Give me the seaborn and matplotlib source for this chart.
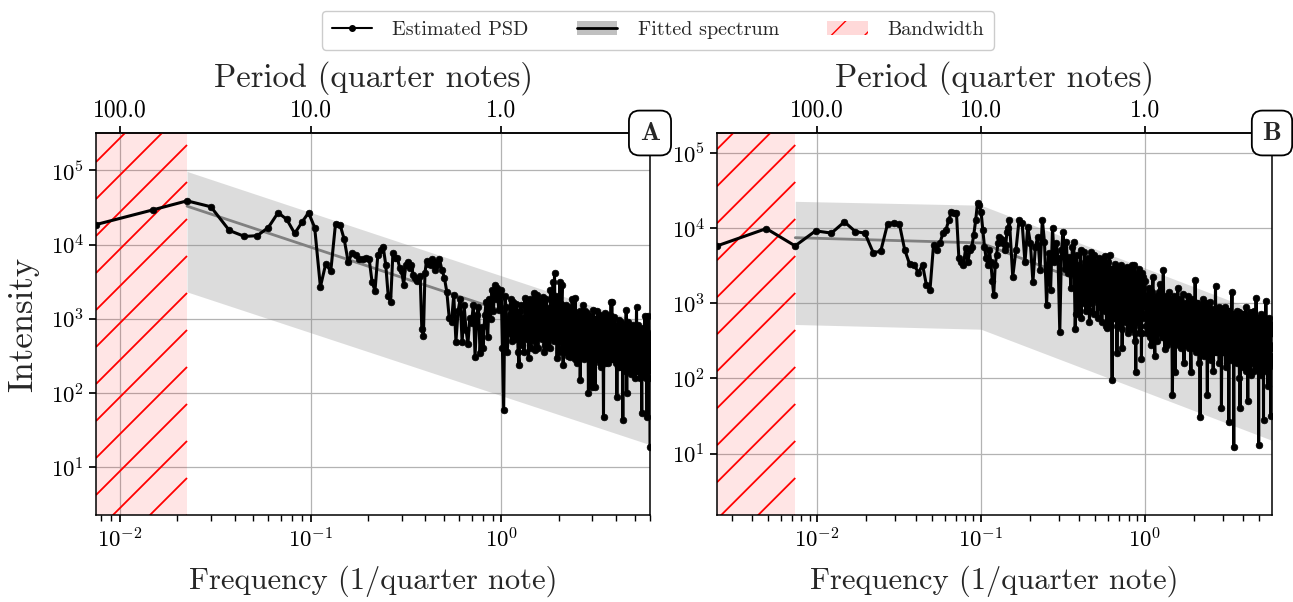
import numpy as np
import matplotlib
matplotlib.use("Agg")
import matplotlib.pyplot as plt
import seaborn as sns
from matplotlib.lines import Line2D
from matplotlib.patches import Patch
from matplotlib.ticker import FixedLocator, FormatStrFormatter, NullLocator

# ---------------- data (PSD given as log10 intensity) ----------------
# panel A: frequency grid k / T_A, blocks with different index start/step
T_A = 133.3
log_psd_a_1 = [  # k = 1..60
    4.27, 4.47, 4.59, 4.51, 4.19, 4.11, 4.12, 4.23, 4.43, 4.34,
    4.15, 4.30, 4.43, 4.23, 3.43, 3.74, 3.64, 4.28, 4.27, 4.07,
    3.76, 3.89, 3.86, 3.81, 3.80, 3.82, 3.81, 3.49, 3.38, 3.86,
    3.93, 3.97, 3.73, 3.31, 3.22, 3.89, 3.82, 3.82, 3.69, 3.64,
    3.46, 3.72, 3.77, 3.69, 3.72, 3.59, 3.55, 3.51, 3.53, 3.58,
    2.86, 2.77, 3.62, 3.78, 3.74, 3.77, 3.73, 3.81, 3.76, 3.66]
log_psd_a_2 = [  # k = 61, 63, ...
    3.73, 3.81, 3.66, 3.55, 3.36, 3.01, 2.96, 3.32, 2.69, 3.10,
    3.26, 2.68, 3.18, 2.85, 2.66, 3.01, 2.94, 3.19, 2.49, 3.05,
    3.16, 2.54, 2.89, 2.61, 3.05, 3.22, 2.76, 3.26, 2.99, 3.39,
    3.10, 3.46, 3.26, 3.41, 3.12, 3.36]
log_psd_a_4 = [  # k = 133, 137, ...
    3.39, 1.77, 3.16, 2.81, 3.26, 3.22, 2.72, 3.08, 2.38, 3.19,
    3.01, 3.28, 2.72, 2.47, 3.26, 2.86, 3.35, 2.58, 3.32, 2.95,
    3.24, 2.72, 3.29, 2.65, 3.26, 2.62, 3.12, 3.39, 2.86, 3.50,
    3.62, 2.86, 2.47, 3.26, 3.49, 2.98, 3.46, 2.38, 2.86, 3.19,
    2.72, 3.16, 2.80, 2.49, 3.00, 3.26, 2.65, 3.08, 3.28, 2.86,
    2.40, 3.04, 2.72, 2.18, 3.08, 2.86, 3.19, 2.58, 3.10, 2.80,
    3.08, 2.65, 2.00, 3.01, 2.72, 3.04, 2.08, 2.95, 3.12, 2.55,
    2.08, 3.00, 2.62, 3.10, 2.45, 2.92, 3.05, 2.35, 2.98, 2.70,
    3.02, 1.68, 2.90, 3.08, 2.50, 2.95, 2.62, 3.00, 2.40, 2.88,
    3.05, 2.55, 3.22, 3.22, 2.75, 2.92, 2.45, 3.02, 2.60, 2.85,
    2.50, 1.95, 2.90, 2.70, 2.98, 2.35, 2.88, 2.60, 2.95, 2.42,
    2.85, 1.64, 2.70, 2.92, 2.30, 2.80, 2.55, 3.12, 2.00, 2.85,
    2.60, 2.95, 2.40, 2.80, 2.50, 2.90, 2.25, 2.78, 2.60, 2.92,
    2.35, 2.80, 2.55, 2.70, 2.20, 2.88, 2.62, 3.16, 2.40, 2.75,
    2.55, 2.92, 2.30, 2.78, 2.60, 2.85, 2.45, 2.70, 1.73, 2.80,
    2.50, 2.88, 2.35, 2.72, 2.58, 3.03, 2.40, 2.75, 2.20, 2.82,
    1.68, 2.70, 2.50, 3.03, 2.35, 2.78, 2.55, 1.27]
log_psd_a_4b = [  # k = 135, 139, ...
    2.60, 3.30, 2.55, 3.05, 2.70, 2.95, 3.20, 2.55, 3.10, 2.65,
    2.55, 3.00, 3.20, 2.80, 2.60, 3.15, 2.70, 3.28, 2.60, 3.10,
    2.80, 3.18, 2.55, 3.05, 2.70, 3.15, 2.60, 2.75, 3.25, 2.70,
    2.95, 3.30, 3.05, 2.55, 2.70, 3.20, 2.60, 3.05, 3.15, 2.55,
    3.05, 2.50, 3.10, 2.95, 2.55, 2.70, 3.10, 2.45, 2.75, 3.00,
    2.90, 2.55, 3.10, 2.65, 2.50, 3.05, 2.45, 2.95, 2.60, 3.05,
    2.50, 2.90, 2.80, 2.45, 3.00, 2.55, 2.70, 2.40, 2.80, 3.00,
    2.90, 2.45, 2.95, 2.55, 2.90, 2.50, 2.40, 2.95, 2.55, 2.95,
    2.45, 2.90, 2.60, 2.40, 2.95, 2.55, 2.90, 2.45, 2.95, 2.60,
    2.45, 2.95, 2.50, 2.60, 2.95, 2.45, 2.85, 2.55, 2.90, 2.40,
    2.85, 2.60, 2.35, 2.85, 2.50, 2.90, 2.45, 2.80, 2.40, 2.85,
    2.50, 2.85, 2.40, 2.55, 2.85, 2.40, 2.90, 2.45, 2.80, 2.30,
    2.85, 2.40, 2.75, 2.55, 2.85, 2.35, 2.70, 2.50, 2.85, 2.45,
    2.70, 2.40, 2.85, 2.30, 2.75, 2.50, 2.85, 2.45, 2.65, 2.30,
    2.80, 2.45, 2.65, 2.20, 2.80, 2.40, 2.75, 2.30, 2.60, 2.45,
    2.80, 2.30, 2.65, 2.40, 2.80, 2.25, 2.70, 2.45, 2.80, 2.35,
    2.60, 2.30, 2.75, 2.40, 2.65, 2.20, 2.50]

# panel B
T_B = 409.0
log_psd_b_1 = [  # k = 1..60
    3.76, 3.99, 3.76, 3.96, 3.93, 4.08, 3.95, 3.93, 3.67, 3.69,
    4.05, 4.07, 4.05, 3.71, 3.52, 3.51, 3.40, 3.51, 3.24, 3.18,
    3.77, 3.71, 3.80, 3.93, 3.97, 4.10, 4.21, 4.20, 4.20, 3.60,
    3.55, 3.51, 3.73, 3.54, 3.70, 3.75, 3.91, 4.10, 4.33, 4.30,
    4.21, 3.97, 3.75, 3.60, 3.51, 3.71, 3.55, 3.30, 3.11, 3.50,
    3.64, 3.80, 3.88, 3.85, 3.84, 3.80, 3.70, 3.77, 3.95, 4.00]
log_psd_b_3 = [  # k = 61, 64, ...
    4.11, 3.35, 3.71, 4.11, 4.07, 3.54, 4.01, 3.80, 3.28, 3.75,
    3.88, 3.44, 4.11, 3.81, 2.98, 3.67, 3.18, 4.00, 3.54, 3.80,
    3.60, 2.62, 3.70, 3.95, 3.45, 3.81, 3.40, 3.61, 3.20, 3.75,
    3.81, 2.65, 3.64, 3.30, 2.91, 3.70, 3.48, 3.20, 3.68, 3.35,
    3.22, 3.60, 3.48, 2.90, 3.68, 3.40, 3.15, 3.64, 3.30, 3.55,
    3.10, 3.60, 2.95, 3.50, 3.25, 3.58, 3.00, 3.45, 3.62, 3.20,
    2.67, 3.55, 3.30, 3.64, 3.05, 3.45, 1.98, 3.40, 3.10, 3.52,
    2.80, 3.35, 2.34, 3.45, 3.05, 3.40, 2.70, 3.50, 3.15, 2.40,
    3.38, 3.00, 3.45, 2.80, 3.30, 3.10, 3.48, 2.60, 3.35, 2.95,
    3.42, 2.85, 3.25, 3.50, 2.70, 3.30, 3.05, 3.51, 2.50, 3.20,
    2.09, 3.35, 2.90, 3.40, 2.75, 3.20, 3.45, 2.60, 3.30, 3.00,
    2.26, 3.40, 2.80, 3.35]
log_psd_b_3b = [  # k = 152, 155, ...
    3.45, 2.85, 3.50, 3.05, 3.30, 2.80, 3.45, 3.00, 3.55, 2.90,
    3.35, 3.10, 2.75, 3.40, 3.00, 3.50, 2.85, 3.30, 3.05, 3.45,
    2.80, 3.35, 3.00, 3.40, 2.75, 3.25, 3.45, 2.90, 3.30, 2.70,
    3.40, 3.05, 3.30, 2.75, 3.45, 2.95, 3.20, 3.40, 2.80, 3.25,
    3.00, 3.40, 2.70, 3.30, 3.10, 2.85, 3.40, 2.95, 3.25, 2.65,
    3.35, 3.05, 3.20, 2.75, 3.40, 2.90, 3.15, 3.35, 2.70, 3.20,
    3.00, 3.30, 2.65, 3.25, 2.95, 3.35, 2.80, 3.15, 2.60, 3.30,
    2.90, 3.20, 3.35, 2.75, 3.10, 2.85, 3.30, 2.70, 3.25, 2.95,
    2.60, 3.30, 2.85]
log_psd_b_12 = [  # k = 412, 424, ...
    3.30, 2.60, 3.20, 2.45, 3.35, 2.30, 3.10, 2.70, 3.25, 2.55,
    3.44, 2.39, 3.05, 2.75, 3.15, 2.50, 1.78, 3.10, 2.09, 2.95,
    3.20, 2.45, 3.05, 2.60, 3.12, 2.20, 2.95, 2.55, 3.10, 2.40,
    2.90, 2.09, 3.05, 2.50, 2.85, 3.31, 2.35, 3.00, 2.60, 2.20,
    1.49, 2.95, 2.45, 3.05, 2.30, 2.90, 2.60, 3.00, 1.78, 2.85,
    2.50, 3.02, 2.25, 2.88, 2.55, 2.10, 2.92, 2.40, 3.23, 2.35,
    2.85, 2.50, 2.95, 2.20, 2.80, 2.45, 1.61, 2.90, 2.35, 2.82,
    2.55, 2.95, 2.15, 2.78, 2.40, 2.90, 2.30, 1.42, 2.85, 2.50,
    2.80, 2.25, 3.15, 2.40, 2.75, 1.09, 2.85, 2.30, 2.78, 2.55,
    2.90, 2.20, 2.72, 2.45, 2.88, 2.00, 1.60, 2.80, 2.35, 2.75,
    2.50, 2.85, 2.15, 2.70, 2.40, 2.82, 2.25, 2.95, 2.10, 2.75,
    2.45, 1.70, 2.80, 2.30, 2.72, 2.50, 2.88, 2.05, 2.70, 2.40,
    2.82, 2.20, 2.68, 2.45, 2.90, 2.10, 2.75, 2.35, 2.65, 3.07,
    2.30, 2.78, 2.15, 2.70, 2.45, 1.12, 2.80, 2.25, 2.68, 2.40,
    2.85, 2.05, 2.72, 2.30, 2.62, 2.48, 2.80, 1.45, 2.70, 2.20,
    2.65, 2.40, 2.78, 3.03, 2.10, 2.68, 2.35, 2.75, 1.90, 2.62,
    2.30, 2.80, 2.15, 2.66, 2.45, 2.72, 1.50, 2.60, 2.25, 2.70,
    2.40]
log_psd_b_12b = [  # k = 418, 430, ...
    2.70, 3.10, 2.55, 3.15, 2.60, 3.05, 2.50, 3.15, 2.60, 3.05,
    2.55, 3.10, 2.45, 3.00, 2.50, 3.05, 2.65, 2.55, 3.05, 2.50,
    2.60, 3.00, 2.40, 2.95, 2.50, 3.00, 2.45, 2.95, 2.50, 3.00,
    2.55, 2.95, 2.40, 2.95, 2.45, 2.60, 3.00, 2.45, 2.95, 2.55,
    2.90, 2.45, 2.95, 2.40, 2.90, 2.50, 2.95, 2.35, 2.90, 2.45,
    2.95, 2.40, 2.85, 2.50, 2.90, 2.55, 2.35, 2.85, 2.45, 2.90,
    2.40, 2.90, 2.35, 2.85, 2.50, 2.90, 2.40, 2.35, 2.90, 2.45,
    2.85, 2.40, 2.90, 2.35, 2.85, 2.45, 2.90, 2.55, 2.30, 2.85,
    2.40, 2.85, 2.35, 2.80, 2.45, 2.85, 2.30, 2.80, 2.40, 2.85,
    2.35, 2.80, 2.45, 2.85, 2.30, 2.75, 2.40, 2.85, 2.30, 2.80,
    2.40, 2.75, 2.30, 2.85, 2.35, 2.75, 2.40, 2.80, 2.30, 2.70,
    2.35, 2.80, 2.30, 2.75, 2.40, 2.80, 2.25, 2.70, 2.35, 2.80,
    2.30, 2.75, 2.35, 2.80, 2.25, 2.70, 2.40, 2.75, 2.30, 2.70,
    2.35, 2.75, 2.25, 2.80, 2.35, 2.70, 2.30, 2.75, 2.20, 2.70,
    2.35, 2.75, 2.30, 2.70, 2.20, 2.75, 2.35, 2.65, 2.25, 2.75,
    2.30, 2.70, 2.25, 2.75, 2.35, 2.65, 2.20, 2.70, 2.30, 2.75,
    2.25, 2.65, 2.30, 2.70, 2.20, 2.65, 2.30, 2.70, 2.25, 2.60]

# fitted spectra (knots of the power laws) and confidence band
fit_a_freq = [0.0225, 6.0]
fit_a_val = [3.3e4, 280]
fit_a_hi = [9.7e4, 820]
fit_a_lo = [2300, 20]

fit_b_freq = [0.00735, 0.10, 6.0]
fit_b_val = [7400, 6300, 215]
fit_b_hi = [22500, 20000, 660]
fit_b_lo = [520, 450, 15]

bandwidth_a = 0.0225
bandwidth_b = 0.00735
ylim_a = (2.25, 3.2e5)
ylim_b = (1.53, 1.82e5)


def build(T, blocks):
    ks, vals = [], []
    for start, step, v in blocks:
        ks.append(start + step * np.arange(len(v)))
        vals.append(np.asarray(v))
    ks, vals = np.concatenate(ks), np.concatenate(vals)
    order = np.argsort(ks, kind="stable")
    return ks[order] / T, 10 ** vals[order]


freq_a, psd_a = build(T_A, [(1, 1, log_psd_a_1), (61, 2, log_psd_a_2),
                            (133, 4, log_psd_a_4), (135, 4, log_psd_a_4b)])
freq_b, psd_b = build(T_B, [(1, 1, log_psd_b_1), (61, 3, log_psd_b_3),
                            (152, 3, log_psd_b_3b), (412, 12, log_psd_b_12),
                            (418, 12, log_psd_b_12b)])

# ---------------- style ----------------
sns.set_theme(style="ticks")
plt.rcParams.update({
    "font.family": "serif",
    "font.serif": ["cmr10"],
    "mathtext.fontset": "cm",
    "axes.unicode_minus": False,
    "axes.formatter.use_mathtext": True,
    "axes.edgecolor": "black",
    "axes.linewidth": 1.1,
    "xtick.color": "black",
    "ytick.color": "black",
})

W, H = 1293, 602
fig = plt.figure(figsize=(W / 100, H / 100), dpi=100)
axA = fig.add_axes([96 / W, 1 - 515 / H, 554 / W, 382 / H])
axB = fig.add_axes([717 / W, 1 - 515 / H, 555 / W, 382 / H])


def hatch_span(ax, x1, spacing=37):
    ax.axvspan(ax.get_xlim()[0], x1, color="red", alpha=0.1, lw=0, zorder=1)
    bb = ax.get_window_extent()
    xf = ax.transAxes.inverted().transform(ax.transData.transform((x1, 1.0)))[0]
    slope = bb.width / bb.height
    for c in np.arange(-xf * slope, 1.0, spacing / bb.height):
        ax.plot([0, xf], [c, c + xf * slope], transform=ax.transAxes,
                color="red", lw=1.3, zorder=1.5, solid_capstyle="butt")


def panel(ax, freq, psd, ff, fv, fhi, flo, bw, ylim, letter, ylabel):
    ax.set_xscale("log")
    ax.set_yscale("log")
    ax.set_xlim(freq[0], freq[-1])
    ax.set_ylim(*ylim)
    ax.grid(True, which="major", color="#b3b3b3", lw=0.9)
    ax.set_axisbelow(True)

    hatch_span(ax, bw)
    ax.fill_between(ff, flo, fhi, color="gray", alpha=0.27, lw=0, zorder=1)
    sns.lineplot(x=ff, y=fv, ax=ax, color="gray", lw=2, zorder=2)
    sns.lineplot(x=freq, y=psd, ax=ax, color="black", lw=2.2, marker="o",
                 markersize=4.8, markeredgecolor="black", markeredgewidth=0.5,
                 estimator=None, sort=False, zorder=3)

    ax.yaxis.set_minor_locator(NullLocator())
    ax.tick_params(axis="both", which="major", labelsize=16.5, length=5)
    ax.set_xlabel("Frequency (1/quarter note)", fontsize=22, labelpad=10)
    if ylabel:
        ax.set_ylabel("Intensity", fontsize=25, labelpad=8)
    else:
        ax.set_ylabel("")

    sec = ax.secondary_xaxis("top", functions=(lambda f: 1 / np.asarray(f),
                                               lambda p: 1 / np.asarray(p)))
    sec.xaxis.set_major_locator(FixedLocator([100, 10, 1]))
    sec.xaxis.set_major_formatter(FormatStrFormatter("%.1f"))
    sec.xaxis.set_minor_locator(NullLocator())
    sec.tick_params(labelsize=17, length=5)
    sec.set_xlabel("Period (quarter notes)", fontsize=23.5, labelpad=9)

    ax.text(1, 1, r"$\mathbf{%s}$" % letter, transform=ax.transAxes,
            ha="center", va="center", fontsize=19, zorder=10,
            bbox=dict(boxstyle="round,pad=0.4", fc="white", ec="black", lw=1.3))


panel(axA, freq_a, psd_a, fit_a_freq, fit_a_val, fit_a_hi, fit_a_lo,
      bandwidth_a, ylim_a, "A", True)
panel(axB, freq_b, psd_b, fit_b_freq, fit_b_val, fit_b_hi, fit_b_lo,
      bandwidth_b, ylim_b, "B", False)

handles = [
    Line2D([], [], color="black", lw=1.5, marker="o", markersize=4),
    (Patch(facecolor="#c0c0c0", edgecolor="none"), Line2D([], [], color="black", lw=2)),
    Patch(facecolor=(1, 0, 0, 0.15), edgecolor="red", hatch="/", lw=0),
]
fig.legend(handles, ["Estimated PSD", "Fitted spectrum", "Bandwidth"],
           loc="upper center", bbox_to_anchor=(0.509, 0.998), ncol=3,
           fontsize=14.5, columnspacing=2.4, handletextpad=1.0, borderpad=0.5,
           frameon=True, fancybox=True, edgecolor="#cccccc", framealpha=1)

fig.savefig("out.png", dpi=100)
